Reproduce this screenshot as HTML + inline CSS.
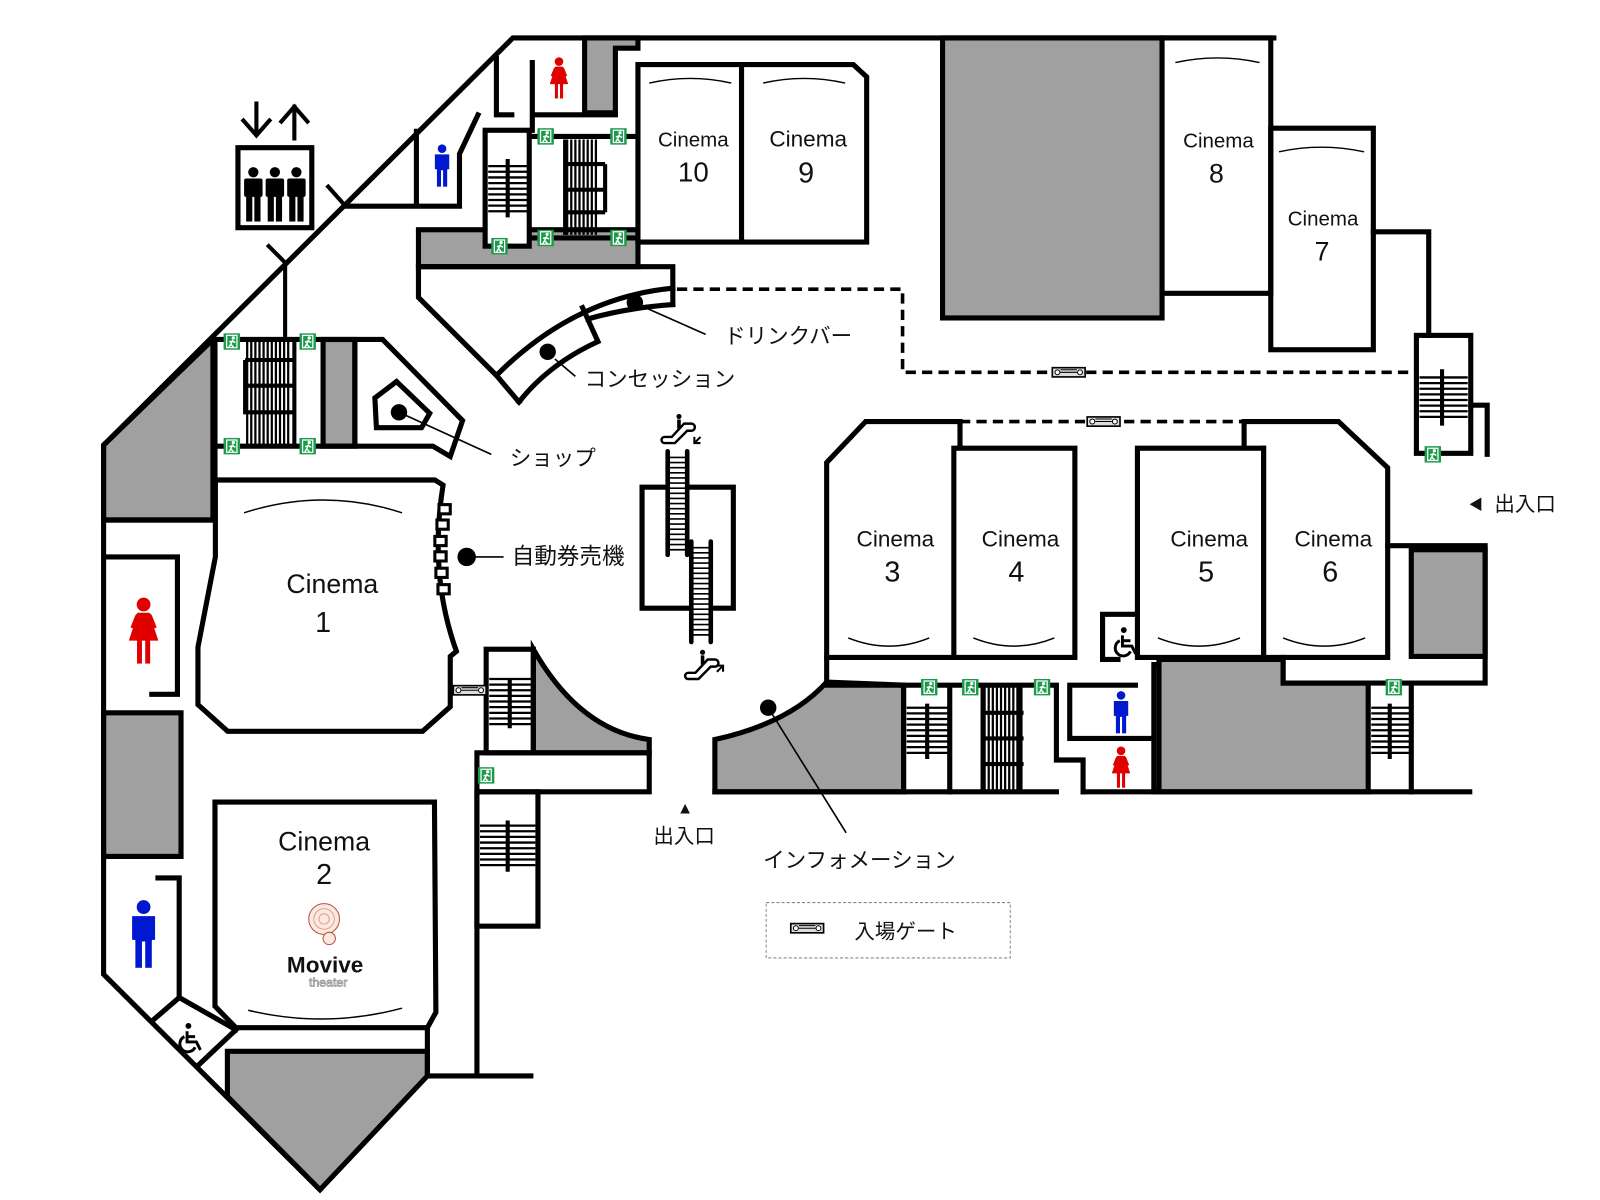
<!DOCTYPE html>
<html><head><meta charset="utf-8"><style>
html,body{margin:0;padding:0;background:#fff;}
svg{display:block;}
text{font-family:"Liberation Sans","Noto Sans CJK JP",sans-serif;fill:#111;}
</style></head><body>
<svg xmlns="http://www.w3.org/2000/svg" width="1600" height="1200" viewBox="0 0 1560 1170">
<defs>
<g id="ex"><rect x="-8" y="-8" width="16" height="16" fill="#1d9a4b"/><path d="M-5,-6 h10 v12 h-10z" fill="none" stroke="#fff" stroke-width="1.2"/><circle cx="1.5" cy="-3.5" r="1.6" fill="#fff"/><path d="M1,-1.5 l-2,4 l-2,3.5 M-1,2.5 l3,3.5 M0.5,-0.5 l3,1.5 M0.5,-0.5 l-3,1" stroke="#fff" stroke-width="1.4" fill="none"/></g>
<g id="fw" fill="#e00000"><circle cx="0" cy="-16" r="4.2"/><path d="M-3.5,-11 H3.5 L5,-9.5 L8,-2 L6.5,-1.5 L5,-6 L9,6 H-9 L-5,-6 L-6.5,-1.5 L-8,-2 L-5,-9.5Z"/><rect x="-4" y="5" width="3" height="15"/><rect x="1" y="5" width="3" height="15"/></g>
<g id="mw" fill="#0018d0"><circle cx="0" cy="-16" r="4.2"/><path d="M-7,-10.5 H7 V4 H5 V-6 H5 V5 H-5 V-6 V4 H-7Z"/><rect x="-5" y="4" width="4" height="17"/><rect x="1" y="4" width="4" height="17"/></g>
<g id="gt"><rect x="-16" y="-4.5" width="32" height="9" fill="#ddd" stroke="#000" stroke-width="1.6"/><circle cx="-11" cy="0" r="2.4" fill="#fff" stroke="#000" stroke-width="1"/><circle cx="11" cy="0" r="2.4" fill="#fff" stroke="#000" stroke-width="1"/><line x1="-8" y1="0" x2="8" y2="0" stroke="#000" stroke-width="1"/><line x1="-8" y1="-2.5" x2="8" y2="-2.5" stroke="#000" stroke-width="1"/></g>
<g id="wc" fill="none" stroke="#000" stroke-width="2.2"><circle cx="-1" cy="-9" r="2.2" fill="#000" stroke="none"/><path d="M-2,-5 V3 H5 L8,9"/><path d="M-2,-1 H4"/><path d="M-4,-1 A6,6 0 1 0 4,7"/></g>
<g id="esc" fill="none" stroke="#000" stroke-width="2.4"><path d="M-16,8 H-9 L3,-5 H10 A3.5,3.5 0 0 1 10,2 H6 L-6,14 H-16 A3,3 0 0 1 -16,8Z"/><circle cx="-2" cy="-12" r="2.5" fill="#000" stroke="none"/><path d="M-2,-9 V0" stroke-width="3.5"/></g>
</defs>

<g stroke="#000" stroke-width="5" fill="none" stroke-linejoin="miter" stroke-linecap="square">
<polygon points="570,37 622,37 622,47 600,47 600,110 570,110" fill="#a0a0a0"/>
<rect x="408" y="224" width="214" height="36" fill="#a0a0a0"/>
<rect x="919" y="37" width="214" height="273" fill="#a0a0a0"/>
<polygon points="101,434 207.6,331 207.6,507 101,507" fill="#a0a0a0"/>
<rect x="315" y="331" width="31" height="104" fill="#a0a0a0"/>
<rect x="101" y="695" width="75.5" height="140" fill="#a0a0a0"/>
<polygon points="221.7,1025 416.7,1025 416.7,1049 312,1160 221.7,1069" fill="#a0a0a0"/>
<path d="M520,633 Q565,712 633,721 L633,734 L520,734Z" fill="#a0a0a0"/>
<path d="M697,721 Q770,705 806,665 L881,668 V772 H697Z" fill="#a0a0a0"/>
<polygon points="1130,643 1251,643 1251,666 1334,666 1334,772 1130,772" fill="#a0a0a0"/>
<rect x="1376" y="536" width="72" height="104" fill="#a0a0a0"/>

<path d="M1242,37 H500 L101,434 V950 L312,1160"/>
<rect x="232" y="144" width="72" height="78"/>
<path d="M320,182 L336,200 M262,240 L278,256 V330" stroke-width="4"/>
<path d="M336,201 H448 V150 L466,112 M406,128 V201"/>
<path d="M484,57 V112 H499 M519,61 V127 M519,112 H600"/>
<rect x="473" y="127" width="43" height="113" fill="#fff"/>
<path d="M519,133 H621 M519,232 H621"/>
<path d="M622,63 H832 L845,75 V236 H622Z M723,63 V236" fill="#fff"/>
<path d="M408,260 H656 V297 M408,260 V290 L484,366 L506,392"/>
<path d="M656,281 Q560,290 484,366 M656,297 Q612,300 573,311 M568,300 L583,333 M583,333 Q535,355 506,392"/>
<path d="M1133,37 H1239 V286 H1133"/>
<rect x="1239" y="125" width="100" height="216"/>
<path d="M1339,226 H1393 V327"/>
<rect x="1381" y="327" width="53" height="115"/>
<path d="M1434,395 H1450 V443"/>
<path d="M209.6,331 V468 M209.6,331 H373 L451,410 L439,445 L422,435 H209.6 M346,331 V435"/>
<polygon points="365.5,388 386.6,372 419,403 411,417 367,417"/>
<path d="M210,468 H424 L432,473 Q418,560 445,635 L439,640 V689 L412,713 H222 L193,687 V631 L210,543 Z" fill="#fff"/>
<path d="M101,507 H207.6"/>
<path d="M102,543 H173 V677 H148"/>
<path d="M154,856 H174.7 V972.6 L150,994 M174.7,972.6 L230,1004 M230,1004 L194,1038"/>
<path d="M209.6,782 H423.6 L425,987 L416.7,1002 H230 L209.6,981 Z" fill="#fff"/>
<path d="M416.7,1002 V1049 H517.6"/>
<rect x="474" y="633" width="46" height="101"/>
<path d="M465,734 H633 V772 H465 M465,734 V1049"/>
<rect x="465" y="772" width="59.5" height="131"/>
<rect x="626" y="475" width="89" height="118"/>
<path d="M936,437 V411 H844 L806,451 V641 H930" fill="#fff"/>
<rect x="930" y="437" width="118" height="204" fill="#fff"/>
<path d="M1213,437 V411 H1305 L1353,456 V641 H1232" fill="#fff"/>
<rect x="1109" y="437" width="123" height="204" fill="#fff"/>
<path d="M1232,437 V641"/>
<path d="M1107,599 H1075 V643 H1090"/>
<path d="M806,641 V668 H1030 M881,668 V772 M926,668 V772 M1030,668 V741 H1056 V772"/>
<path d="M697,772 H1030 M1056,772 H1433"/>
<path d="M1043,668 H1107 M1043,668 V720 H1125 M1125,648 V772 M1125,648 H1130"/>
<path d="M1251,641 V666 H1448 M1353,532 H1448 V666 M1376,666 V772"/>
</g>

<path d="M660,282 H880 V363 H1381" stroke="#000" stroke-width="3.5" fill="none" stroke-dasharray="10 6"/>
<path d="M936,411 H1213" stroke="#000" stroke-width="3.5" fill="none" stroke-dasharray="10 6"/>

<g stroke="#000" stroke-width="2.2">
<path d="M476,162 H514 M476,167.5 H514 M476,173 H514 M476,178.5 H514 M476,184 H514 M476,189.5 H514 M476,195 H514 M476,200.5 H514 M476,206 H514"/>
<path d="M1384,368 H1431 M1384,373.5 H1431 M1384,379 H1431 M1384,384.5 H1431 M1384,390 H1431 M1384,395.5 H1431 M1384,401 H1431 M1384,406.5 H1431"/>
<path d="M477,662 H518 M477,667.5 H518 M477,673 H518 M477,678.5 H518 M477,684 H518 M477,689.5 H518 M477,695 H518 M477,700.5 H518 M477,706 H518"/>
<path d="M468,805 H522 M468,810.5 H522 M468,816 H522 M468,821.5 H522 M468,827 H522 M468,832.5 H522 M468,838 H522 M468,843.5 H522"/>
<path d="M884,690 H924 M884,695.5 H924 M884,701 H924 M884,706.5 H924 M884,712 H924 M884,717.5 H924 M884,723 H924 M884,728.5 H924 M884,734 H924"/>
<path d="M1337,690 H1374 M1337,695.5 H1374 M1337,701 H1374 M1337,706.5 H1374 M1337,712 H1374 M1337,717.5 H1374 M1337,723 H1374 M1337,728.5 H1374 M1337,734 H1374"/>
<path d="M553,136 V229 M557,136 V229 M561,136 V229 M565,136 V229 M569,136 V229 M573,136 V229 M577,136 V229 M581,136 V229"/>
<path d="M241,333 V435 M245,333 V435 M249,333 V435 M253,333 V435 M257,333 V435 M261,333 V435 M265,333 V435 M269,333 V435 M273,333 V435 M277,333 V435 M281,333 V435"/>
<path d="M960,670 V770 M964,670 V770 M968,670 V770 M972,670 V770 M976,670 V770 M980,670 V770 M984,670 V770 M988,670 V770 M992,670 V770"/>
</g>
<g stroke="#000" stroke-width="4" fill="none">
<path d="M495,155 V212 M1406,360 V415 M497,662 V710 M495,800 V850 M904,686 V740 M1355,686 V740"/>
<path d="M551,136 V229 M549,160 H590 M549,185 H590 M549,207 H590 M590,160 V207"/>
<path d="M239,351 V402 H287 M239,351 H287 M239,376 H287 M287,333 V435"/>
<path d="M958,695 V745 H998 M958,695 H998 M958,720 H998 M958,670 V770 M995,668 V772"/>
</g>

<rect x="652" y="440" width="17" height="100" fill="#fff"/>
<rect x="675" y="528" width="17" height="98" fill="#fff"/>
<g stroke="#000" stroke-width="1.6">
<path d="M652,446 H669 M652,451 H669 M652,456 H669 M652,461 H669 M652,466 H669 M652,471 H669 M652,476 H669 M652,481 H669 M652,486 H669 M652,491 H669 M652,496 H669 M652,501 H669 M652,506 H669 M652,511 H669 M652,516 H669 M652,521 H669 M652,526 H669 M652,531 H669 M652,536 H669"/>
<path d="M675,534 H692 M675,539 H692 M675,544 H692 M675,549 H692 M675,554 H692 M675,559 H692 M675,564 H692 M675,569 H692 M675,574 H692 M675,579 H692 M675,584 H692 M675,589 H692 M675,594 H692 M675,599 H692 M675,604 H692 M675,609 H692 M675,614 H692 M675,619 H692"/>
</g>
<g stroke="#000" stroke-width="4.5" stroke-linecap="round"><path d="M651,440 V541 M670,440 V541 M674,528 V626 M693,528 V626"/></g>
<use href="#esc" x="664" y="418"/>
<path d="M683,426 L677,432 M677,426 V432 H683" stroke="#000" stroke-width="2" fill="none"/>
<use href="#esc" x="687" y="648"/>
<path d="M699,655 L705,649 M699,649 H705 V655" stroke="#000" stroke-width="2" fill="none"/>

<g fill="#fff" stroke="#000" stroke-width="3">
<rect x="428" y="492" width="11" height="9"/><rect x="426" y="507" width="11" height="9"/><rect x="424" y="523" width="11" height="9"/><rect x="424" y="538" width="11" height="9"/><rect x="425" y="554" width="11" height="9"/><rect x="427" y="570" width="11" height="9"/>
</g>

<g stroke="#000" stroke-width="4" fill="none"><path d="M250,99 V133 M236,116 L250,132 L264,116 M287,102 V137 M273,120 L287,104 L301,120"/></g>
<g fill="#000">
<circle cx="247" cy="168" r="5"/><rect x="238" y="174" width="18" height="18" rx="2"/><rect x="240" y="190" width="6" height="26"/><rect x="248" y="190" width="6" height="26"/>
<circle cx="268" cy="168" r="5"/><rect x="259" y="174" width="18" height="18" rx="2"/><rect x="261" y="190" width="6" height="26"/><rect x="269" y="190" width="6" height="26"/>
<circle cx="289" cy="168" r="5"/><rect x="280" y="174" width="18" height="18" rx="2"/><rect x="282" y="190" width="6" height="26"/><rect x="290" y="190" width="6" height="26"/>
</g>

<use href="#mw" x="431" y="161"/>
<use href="#fw" x="545" y="76"/>
<use href="#fw" transform="translate(140,615) scale(1.6)"/>
<use href="#mw" transform="translate(140,910) scale(1.6)"/>
<use href="#mw" x="1093" y="694"/>
<use href="#fw" x="1093" y="748"/>

<use href="#wc" transform="translate(185,1012) scale(1.3)"/>
<use href="#wc" transform="translate(1097,626) scale(1.3)"/>

<use href="#ex" x="532" y="133"/><use href="#ex" x="603" y="133"/><use href="#ex" x="532" y="232"/><use href="#ex" x="603" y="232"/><use href="#ex" x="487" y="240"/>
<use href="#ex" x="226" y="333"/><use href="#ex" x="300" y="333"/><use href="#ex" x="226" y="435"/><use href="#ex" x="300" y="435"/>
<use href="#ex" x="1397" y="443"/><use href="#ex" x="474" y="756"/>
<use href="#ex" x="906" y="670"/><use href="#ex" x="946" y="670"/><use href="#ex" x="1016" y="670"/><use href="#ex" x="1359" y="670"/>

<use href="#gt" x="1042" y="363"/><use href="#gt" x="1076" y="411"/><use href="#gt" x="458" y="673"/><use href="#gt" x="787" y="905"/>

<g stroke="#000" stroke-width="1.4" fill="none">
<path d="M633,81 Q673,72 713,81 M744,81 Q784,72 824,81 M1146,61 Q1187,52 1228,61 M1247,148 Q1288,139 1330,148"/>
<path d="M238,500 Q315,475 392,500 M242,985 Q317,1003 392,983"/>
<path d="M827,622 Q867,638 906,622 M949,622 Q989,638 1028,622 M1129,622 Q1169,638 1209,622 M1251,622 Q1291,638 1331,622"/>
</g>

<g fill="#000"><circle cx="619" cy="295" r="8"/><circle cx="534" cy="343" r="8"/><circle cx="389" cy="402" r="8"/><circle cx="455" cy="543" r="9"/><circle cx="749" cy="690" r="8"/></g>
<g stroke="#000" stroke-width="1.6"><path d="M627,299 L688,326 M541,350 L561,367 M389,402 L479,443 M455,543 H491 M749,690 L825,812"/></g>

<circle cx="316" cy="896" r="15" fill="#fbe8e0" stroke="#b5543a" stroke-width="1"/>
<circle cx="316" cy="896" r="10" fill="none" stroke="#d9957d" stroke-width="0.8"/>
<circle cx="316" cy="896" r="5" fill="none" stroke="#d9957d" stroke-width="0.8"/>
<circle cx="321" cy="915" r="6" fill="#fbe8e0" stroke="#b5543a" stroke-width="1"/>
<text x="317" y="948" font-size="22" font-weight="bold" text-anchor="middle">Movive</text>
<text x="320" y="962" font-size="12" text-anchor="middle" style="fill:#fff;stroke:#999;stroke-width:0.8">theater</text>

<rect x="747" y="880" width="238" height="54" fill="none" stroke="#888" stroke-width="1" stroke-dasharray="3 2"/>

<g text-anchor="middle">
<text x="676" y="143" font-size="20">Cinema</text><text x="676" y="177" font-size="27">10</text>
<text x="788" y="143" font-size="22">Cinema</text><text x="786" y="178" font-size="28">9</text>
<text x="1188" y="144" font-size="20">Cinema</text><text x="1186" y="178" font-size="26">8</text>
<text x="1290" y="220" font-size="20">Cinema</text><text x="1289" y="254" font-size="26">7</text>
<text x="324" y="578" font-size="26">Cinema</text><text x="315" y="616" font-size="28">1</text>
<text x="316" y="829" font-size="26">Cinema</text><text x="316" y="862" font-size="28">2</text>
<text x="873" y="533" font-size="22">Cinema</text><text x="870" y="567" font-size="28">3</text>
<text x="995" y="533" font-size="22">Cinema</text><text x="991" y="567" font-size="28">4</text>
<text x="1179" y="533" font-size="22">Cinema</text><text x="1176" y="567" font-size="28">5</text>
<text x="1300" y="533" font-size="22">Cinema</text><text x="1297" y="567" font-size="28">6</text>
<text x="668" y="793" font-size="16">▲</text>
<text x="667" y="822" font-size="20">出入口</text>
</g>
<text x="706" y="335" font-size="21">ドリンクバー</text>
<text x="570" y="377" font-size="21">コンセッション</text>
<text x="497" y="454" font-size="21">ショップ</text>
<text x="499" y="550" font-size="22">自動券売機</text>
<text x="744" y="846" font-size="21">インフォメーション</text>
<text x="833" y="915" font-size="20">入場ゲート</text>
<text x="1432" y="497" font-size="14">◀</text>
<text x="1457" y="498" font-size="20">出入口</text>
</svg>
</body></html>
